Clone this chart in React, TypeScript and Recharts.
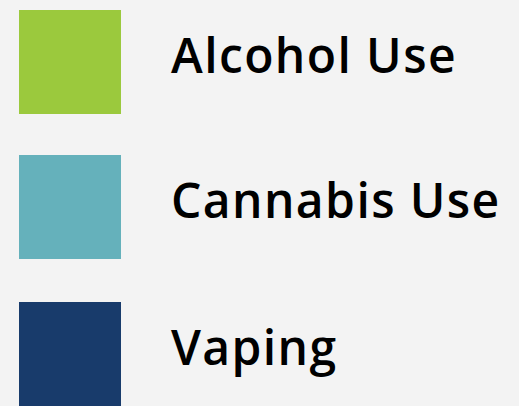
import React from 'react';
import { BarChart, Bar, XAxis, YAxis, Legend } from 'recharts';

const categories = ['Total'];
const seriesNames = ['Alcohol Use', 'Cannabis Use', 'Vaping'];
const seriesColors = ['#9bc93d', '#65b1bb', '#183b6b'];
const seriesValues = [1, 1, 1];

const data = categories.map((c) => {
  const row: Record<string, string | number> = { name: c };
  seriesNames.forEach((s, i) => {
    row[s] = seriesValues[i];
  });
  return row;
});

const rowTops = [10, 155, 302];

const LegendContent = (props: any) => {
  const { payload } = props;
  return (
    <div style={{ position: 'relative', width: 519, height: 406 }}>
      {(payload || []).map((entry: any, i: number) => (
        <div key={entry.value}>
          <div
            style={{
              position: 'absolute',
              left: 19,
              top: rowTops[i],
              width: 102,
              height: 104,
              background: entry.color,
            }}
          />
          <div
            style={{
              position: 'absolute',
              left: 171,
              top: rowTops[i] + 21,
              fontFamily: '"Open Sans", sans-serif',
              fontWeight: 600,
              fontSize: 48,
              lineHeight: '48px',
              letterSpacing: 1.4,
              color: '#000',
              whiteSpace: 'nowrap',
            }}
          >
            {entry.value}
          </div>
        </div>
      ))}
    </div>
  );
};

const App: React.FC = () => {
  return (
    <div style={{ position: 'absolute', left: 0, top: 0, width: 519, height: 406, background: '#f3f3f3', overflow: 'hidden' }}>
      <BarChart width={519} height={406} data={data} margin={{ top: 0, right: 0, bottom: 0, left: 0 }}>
        <XAxis dataKey="name" hide />
        <YAxis hide />
        <Legend
          layout="vertical"
          align="left"
          verticalAlign="top"
          content={LegendContent}
          wrapperStyle={{ left: 0, top: 0, width: 519, height: 406 }}
        />
        {seriesNames.map((s, i) => (
          <Bar key={s} dataKey={s} name={s} fill={seriesColors[i]} isAnimationActive={false} />
        ))}
      </BarChart>
    </div>
  );
};

export default App;
